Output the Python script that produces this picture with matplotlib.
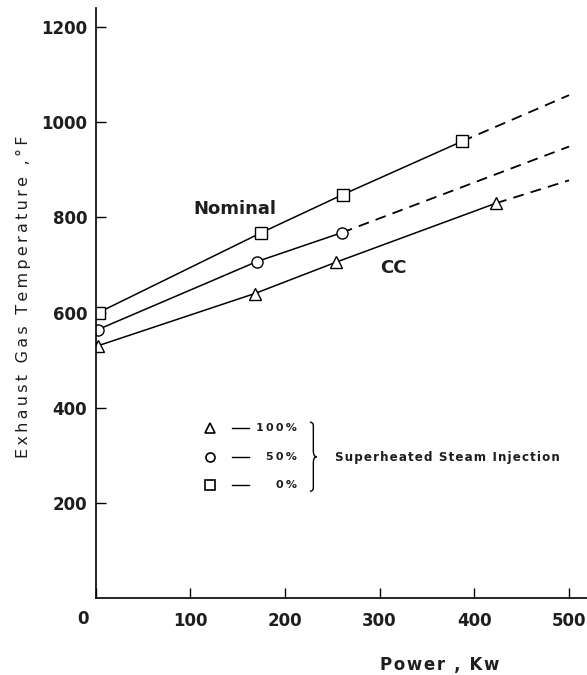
import matplotlib.pyplot as plt
from matplotlib.path import Path
from matplotlib.patches import PathPatch

plt.rcParams['font.family'] = ['DejaVu Sans']

# 0% steam (square), 50% (circle), 100% (triangle)
sq_x = [3, 175, 261, 387]
sq_y = [600, 768, 848, 960]
sq_ext_x = [387, 500]
sq_ext_y = [960, 1057]

ci_x = [2, 170, 260]
ci_y = [564, 707, 768]
ci_ext_x = [260, 500]
ci_ext_y = [768, 949]

tr_x = [2, 168, 254, 423]
tr_y = [530, 640, 706, 830]
tr_ext_x = [423, 500]
tr_ext_y = [830, 878]

legend_marks = ['^', 'o', 's']
legend_labels = ['100%', '50%', '0%']

x_ticks = [0, 100, 200, 300, 400, 500]
y_ticks = [200, 400, 600, 800, 1000, 1200]

ink = '#1e1e1e'


def spaced(s, sep='\u200a'):
    return sep.join(s)


fig = plt.figure(figsize=(5.87, 6.75), dpi=100)
ax = fig.add_axes([0.163, 0.114, 0.837, 0.874])

mk = dict(mfc='white', mec='black', mew=1.0, ms=8, color='black', lw=1.1)
ax.plot(sq_x, sq_y, marker='s', **mk)
ax.plot(ci_x, ci_y, marker='o', **mk)
ax.plot(tr_x, tr_y, marker='^', **mk)
for ex, ey in [(sq_ext_x, sq_ext_y), (ci_ext_x, ci_ext_y), (tr_ext_x, tr_ext_y)]:
    ax.plot(ex, ey, color='black', lw=1.3, ls=(0, (6, 4)), zorder=1)

ax.text(103, 817, 'Nominal', fontsize=13, fontweight='bold', color=ink,
        ha='left', va='center')
ax.text(300, 693, 'CC', fontsize=13, fontweight='bold', color=ink,
        ha='left', va='center')

# hand-drawn style legend
leg_y = [0.289, 0.239, 0.192]
for m, lab, yy in zip(legend_marks, legend_labels, leg_y):
    ax.plot([0.233], [yy], marker=m, mfc='white', mec='black', ms=6.5, mew=1.2,
            transform=ax.transAxes)
    ax.plot([0.278, 0.313], [yy, yy], color='black', lw=1.0, transform=ax.transAxes)
    ax.text(0.409, yy, spaced(lab, '\u2009'), fontsize=8, fontweight='bold', color=ink,
            ha='right', va='center', transform=ax.transAxes)
bx, by0, by1 = 0.436, 0.181, 0.298
bm = (by0 + by1) / 2
verts = [(bx, by1), (bx + 0.007, by1), (bx + 0.007, by1 - 0.006),
         (bx + 0.007, bm + 0.01), (bx + 0.007, bm), (bx + 0.014, bm),
         (bx + 0.007, bm), (bx + 0.007, bm - 0.01),
         (bx + 0.007, by0 + 0.006), (bx + 0.007, by0), (bx, by0)]
codes = [Path.MOVETO, Path.CURVE3, Path.CURVE3, Path.LINETO, Path.CURVE3, Path.CURVE3,
         Path.CURVE3, Path.CURVE3, Path.LINETO, Path.CURVE3, Path.CURVE3]
ax.add_patch(PathPatch(Path(verts, codes), fill=False, lw=1.0, transform=ax.transAxes))
ax.text(0.488, 0.239, spaced('Superheated Steam Injection'), fontsize=8.6,
        fontweight='bold', color=ink, ha='left', va='center', transform=ax.transAxes)

ax.set_xlim(0, 519)
ax.set_ylim(0, 1240)
ax.set_xticks(x_ticks)
ax.set_yticks(y_ticks)
ax.set_xticklabels([''] + [str(v) for v in x_ticks[1:]])
ax.tick_params(direction='in', length=7, width=1, labelsize=12, labelcolor=ink)
ax.tick_params(axis='y', pad=6)
ax.tick_params(axis='x', pad=10)
for t in ax.get_xticklabels() + ax.get_yticklabels():
    t.set_fontweight('bold')
ax.annotate(str(x_ticks[0]), xy=(x_ticks[0], 0), xycoords='data', xytext=(-9, -15),
            textcoords='offset points', ha='center', va='center', fontsize=12,
            fontweight='bold', color=ink)
ax.spines['top'].set_visible(False)
ax.spines['right'].set_visible(False)
ax.spines['left'].set_linewidth(1.2)
ax.spines['bottom'].set_linewidth(1.2)

ax.set_ylabel(spaced('Exhaust Gas Temperature ,°F', '\u2009'), fontsize=11.5,
              color=ink, va='center')
ax.yaxis.set_label_coords(-0.147, 0.51)
ax.set_xlabel(spaced('Power , Kw'), fontsize=12, fontweight='bold',
              color=ink, va='center')
ax.xaxis.set_label_coords(0.70, -0.113)

fig.savefig('out.png', dpi=100)
